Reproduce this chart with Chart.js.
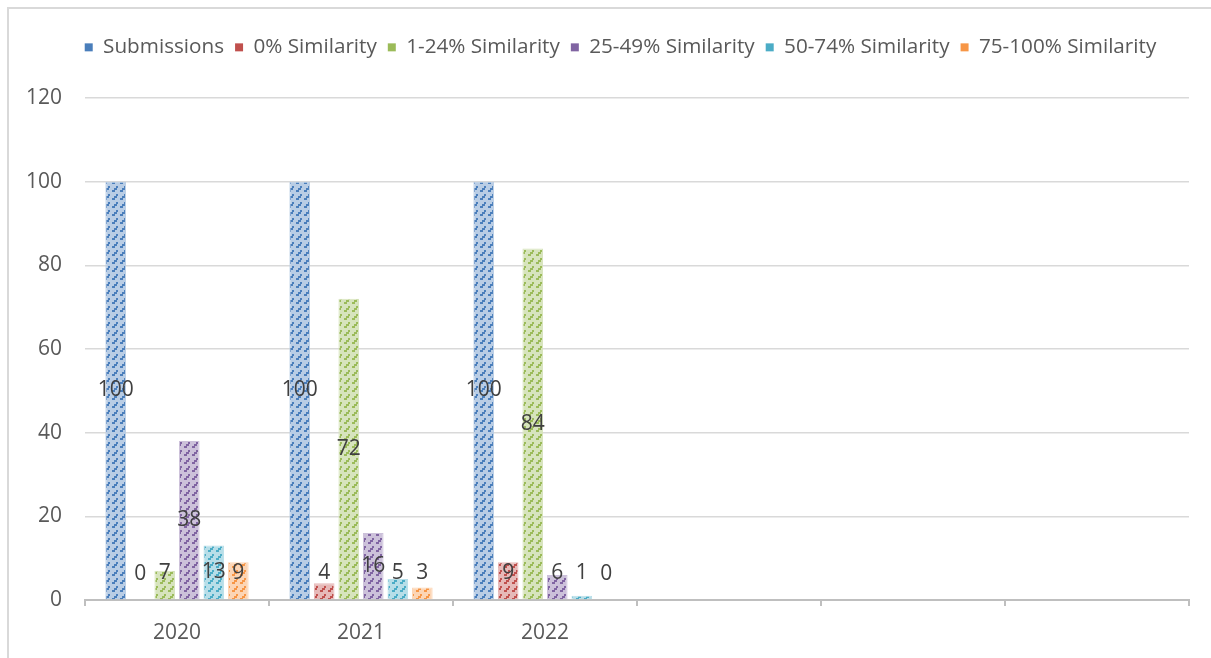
<!DOCTYPE html>
<html>
<head>
<meta charset="utf-8">
<script src="https://cdn.jsdelivr.net/npm/chart.js@4.4.1/dist/chart.umd.min.js"></script>
<style>
  html, body { margin: 0; padding: 0; background: #fff; }
  #wrap { position: relative; width: 1211px; height: 658px; overflow: hidden; }
  #frame { position: absolute; left: 7px; top: 7px; width: 1300px; height: 700px;
           border-left: 2px solid #d9d9d9; border-top: 2px solid #d9d9d9; }
  #myChart { position: absolute; left: 0; top: 0; }
</style>
</head>
<body>
<div id="wrap">
  <div id="frame"></div>
  <canvas id="myChart" width="1211" height="658"></canvas>
</div>
<script>
const years = ['2020', '2021', '2022', '', '', ''];
const seriesNames = ['Submissions', '0% Similarity', '1-24% Similarity', '25-49% Similarity', '50-74% Similarity', '75-100% Similarity'];
const submissions = [100, 100, 100];
const sim0 = [0, 4, 9];
const sim1to24 = [7, 72, 84];
const sim25to49 = [38, 16, 6];
const sim50to74 = [13, 5, 1];
const sim75to100 = [9, 3, 0];
const yTicks = [0, 20, 40, 60, 80, 100, 120];

const darkColors = ['#4a7ebb', '#c0504d', '#9bbb59', '#8064a2', '#4bacc6', '#f79646'];
const lightColors = ['#b9cde5', '#e6b9b8', '#d7e4bd', '#ccc1da', '#b7dee8', '#fcd5b5'];

// dashed upward diagonal fill, like the office pattern
function makePattern(dark, light) {
    const c = document.createElement('canvas');
    c.width = 8;
    c.height = 8;
    const g = c.getContext('2d');
    g.fillStyle = light;
    g.fillRect(0, 0, 8, 8);
    g.fillStyle = dark;
    g.fillRect(0, 6, 3, 2);
    g.fillRect(2, 4, 3, 2);
    g.fillRect(4, 2, 2, 2);
    return g.createPattern(c, 'repeat');
}

const allSeries = [submissions, sim0, sim1to24, sim25to49, sim50to74, sim75to100];
const datasets = [];
for (let i = 0; i < allSeries.length; i++) {
    datasets.push({
        label: seriesNames[i],
        data: allSeries[i],
        backgroundColor: makePattern(darkColors[i], lightColors[i]),
        borderColor: lightColors[i],
        borderWidth: 1,
        categoryPercentage: 0.8,
        barPercentage: 0.84,
    });
}

const valueLabels = {
    id: 'valueLabels',
    afterDatasetsDraw(chart) {
        const ctx = chart.ctx;
        ctx.save();
        ctx.font = '21px "Open Sans"';
        ctx.fillStyle = '#404040';
        ctx.textAlign = 'center';
        ctx.textBaseline = 'middle';
        chart.data.datasets.forEach((ds, i) => {
            const meta = chart.getDatasetMeta(i);
            meta.data.forEach((bar, j) => {
                const mid = (bar.y + bar.base) / 2;
                const y = Math.min(mid, bar.base - 26);
                ctx.fillText(String(ds.data[j]), bar.x, y);
            });
        });
        ctx.restore();
    }
};

// fixed legend height, and legend centred a bit right like the original
const legendTweak = {
    id: 'legendTweak',
    beforeInit(chart) {
        const fit = chart.legend.fit;
        chart.legend.fit = function () {
            fit.bind(chart.legend)();
            this.height = 72;
        };
    },
    afterLayout(chart) {
        chart.legend.left += 22;
        chart.legend.right += 22;
    }
};

const ctx = document.getElementById('myChart');

new Chart(ctx, {
    type: 'bar',
    data: {
        labels: years,
        datasets: datasets
    },
    plugins: [valueLabels, legendTweak],
    options: {
        responsive: false,
        animation: false,
        layout: {
            padding: { top: 26, left: 8, right: 22, bottom: 10 }
        },
        plugins: {
            legend: {
                position: 'top',
                labels: {
                    color: '#595959',
                    font: { family: '"Open Sans"', size: 20.7 },
                    boxWidth: 8,
                    boxHeight: 8,
                    padding: 11,
                    generateLabels(chart) {
                        return chart.data.datasets.map((ds, i) => ({
                            text: ds.label,
                            fillStyle: darkColors[i],
                            strokeStyle: darkColors[i],
                            lineWidth: 0,
                            fontColor: '#595959',
                            datasetIndex: i,
                        }));
                    }
                }
            },
            tooltip: { enabled: false }
        },
        scales: {
            y: {
                min: 0,
                max: 120,
                afterFit(scale) { scale.width = 77; },
                afterBuildTicks(scale) { scale.ticks = yTicks.map(v => ({ value: v })); },
                ticks: {
                    color: '#595959',
                    font: { family: '"Open Sans"', size: 21 },
                    padding: 23
                },
                grid: {
                    color: '#d9d9d9',
                    lineWidth: 1.5,
                    drawTicks: false
                },
                border: { display: false }
            },
            x: {
                afterFit(scale) { scale.height = 48; },
                ticks: {
                    color: '#595959',
                    font: { family: '"Open Sans"', size: 21 },
                    padding: 14
                },
                grid: {
                    offset: true,
                    drawOnChartArea: false,
                    drawTicks: true,
                    tickLength: 6,
                    color: '#bfbfbf',
                    lineWidth: 2
                },
                border: { color: '#bfbfbf', width: 2 }
            }
        }
    }
});
</script>
</body>
</html>
